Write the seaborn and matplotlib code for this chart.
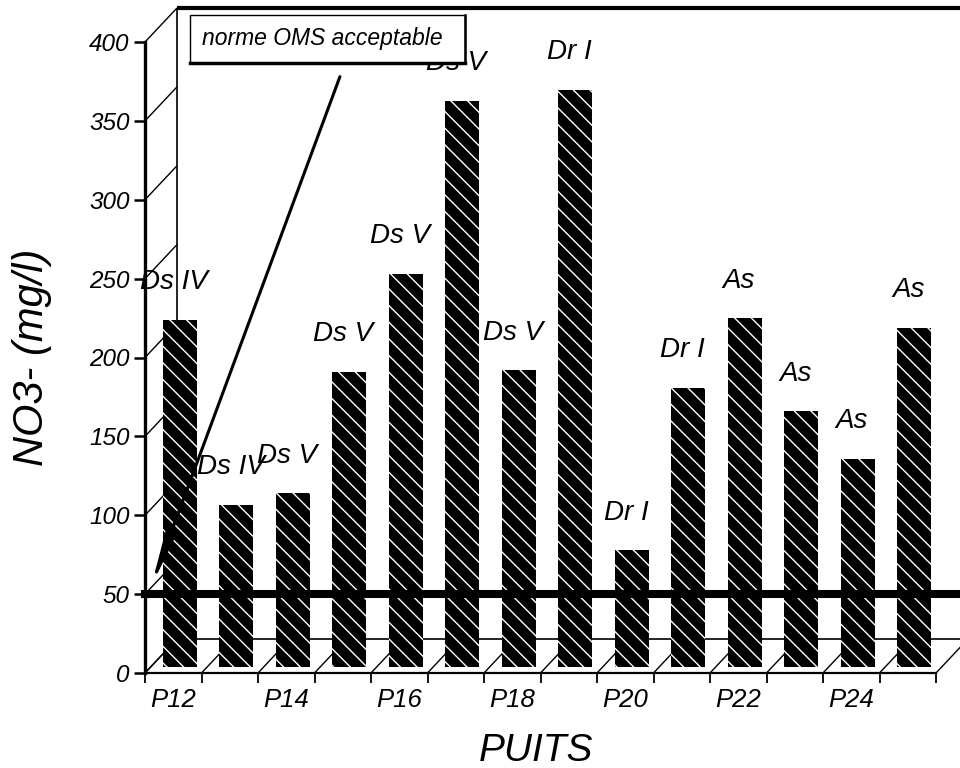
import numpy as np
import pandas as pd
import matplotlib
matplotlib.use("Agg")
import matplotlib.pyplot as plt
import seaborn as sns
from matplotlib.transforms import ScaledTranslation
from matplotlib.patches import Rectangle

# ---- data ----
wells = ["P12", "P13", "P14", "P15", "P16", "P17", "P18",
         "P19", "P20", "P21", "P22", "P23", "P24", "P25"]
no3 = [220, 103, 110, 187, 249, 359, 188, 366, 74, 177, 221, 162, 132, 215]
facies = ["Ds IV", "Ds IV", "Ds V", "Ds V", "Ds V", "Ds V", "Ds V",
          "Dr I", "Dr I", "Dr I", "As", "As", "As", "As"]
yticks = [0, 50, 100, 150, 200, 250, 300, 350, 400]
xtick_labels = ["P12", "P14", "P16", "P18", "P20", "P22", "P24"]
norm_value = 50
norm_text = "norme OMS acceptable"
ylabel = "NO3- (mg/l)"
xlabel = "PUITS"

plt.rcParams["font.family"] = ["Liberation Sans", "DejaVu Sans"]
plt.rcParams["font.style"] = "italic"
plt.rcParams["hatch.linewidth"] = 1.0

fig = plt.figure(figsize=(9.6, 7.68), dpi=100)
fig.patch.set_facecolor("white")
ax = fig.add_axes([145 / 960, 95 / 768, 791 / 960, 631 / 768])
ax.set_facecolor("white")

df = pd.DataFrame({"puits": wells, "no3": no3})
sns.barplot(data=df, x="puits", y="no3", color="black", saturation=1,
            width=0.6, ax=ax, zorder=2)

# bars sit slightly behind the front plane (pseudo-3D)
bar_off = ScaledTranslation(6.5 / 100, 6 / 100, fig.dpi_scale_trans)
for p in ax.patches:
    p.set_hatch("\\\\")
    p.set_edgecolor("white")
    p.set_linewidth(0)
    p.set_transform(ax.transData + bar_off)

n = len(wells)
ax.set_xlim(-0.5, n - 0.5)
ax.set_ylim(0, 400)

# depth offsets of the back wall, in data units
px_x = 791 / n
px_y = 631 / 400
DX = 32 / px_x
DY = 34 / px_y

lk = dict(color="black", clip_on=False, zorder=1, solid_capstyle="butt")
# left side wall lines
for v in yticks:
    ax.plot([-0.5, -0.5 + DX], [v, v + DY], lw=1.0, **lk)
# floor lines
for b in np.arange(-0.5, n, 1):
    ax.plot([b, b + DX], [0, DY], lw=1.0, **lk)
# back wall
ax.plot([-0.5 + DX, -0.5 + DX], [DY, 400 + DY], lw=1.2, **lk)
ax.plot([-0.5 + DX, n + DX], [DY, DY], lw=1.2, **lk)
ax.plot([-0.5 + DX, n + DX], [400 + DY, 400 + DY], lw=3.0, **lk)

# norm line
ax.axhline(norm_value, xmin=0, xmax=1.05, color="black", lw=5.8,
           clip_on=False, zorder=3)

# facies labels above bars
for i, (v, t) in enumerate(zip(no3, facies)):
    ax.annotate(t, xy=(i, v), xytext=(0.5, 31.5), textcoords="offset points",
                ha="center", va="center", fontsize=20, zorder=1.5,
                annotation_clip=False)

# legend box with arrow
x0 = (190 - 145) / px_x - 0.5
x1 = (465 - 145) / px_x - 0.5
y0 = (673 - 63) / px_y
y1 = (673 - 15) / px_y
ax.add_patch(Rectangle((x0, y0), x1 - x0, y1 - y0, facecolor="white",
                       edgecolor="black", lw=1.0, clip_on=False, zorder=5))
ax.plot([x0, x1], [y0, y0], color="black", lw=2.5, clip_on=False, zorder=6)
ax.plot([x1, x1], [y0, y1], color="black", lw=1.8, clip_on=False, zorder=6)
ax.text((202 - 145) / px_x - 0.5, (y0 + y1) / 2, norm_text, fontsize=16.5,
        ha="left", va="center", zorder=7, clip_on=False)
ax.annotate("", xy=(-0.39, norm_value + 5), xytext=(2.95, 378),
            arrowprops=dict(arrowstyle="-|>,head_length=3,head_width=0.3",
                            color="black", lw=2.2, mutation_scale=10,
                            shrinkA=0, shrinkB=0),
            annotation_clip=False, zorder=4)

# axes styling
for s in ["top", "right"]:
    ax.spines[s].set_visible(False)
ax.spines["left"].set_linewidth(2.4)
ax.spines["bottom"].set_linewidth(1.6)
ax.spines["left"].set_zorder(4)

ax.set_yticks(yticks)
ax.set_yticklabels([str(v) for v in yticks])
ax.set_xticks(np.arange(0, n, 2))
ax.set_xticklabels(xtick_labels)
ax.set_xticks(np.arange(-0.5, n, 1), minor=True)
ax.tick_params(axis="x", which="major", length=0, pad=11, labelsize=18.5)
ax.tick_params(axis="x", which="minor", length=7, width=1.3, direction="out")
ax.tick_params(axis="y", length=8, width=1.8, pad=3, labelsize=17.5)

ax.set_xlabel(xlabel, fontsize=28)
ax.xaxis.set_label_coords(0.494, -0.095)
ax.set_ylabel(ylabel, fontsize=30)
ax.yaxis.set_label_coords(-0.118, 0.5)

fig.savefig("out.png", dpi=100, facecolor="white")
